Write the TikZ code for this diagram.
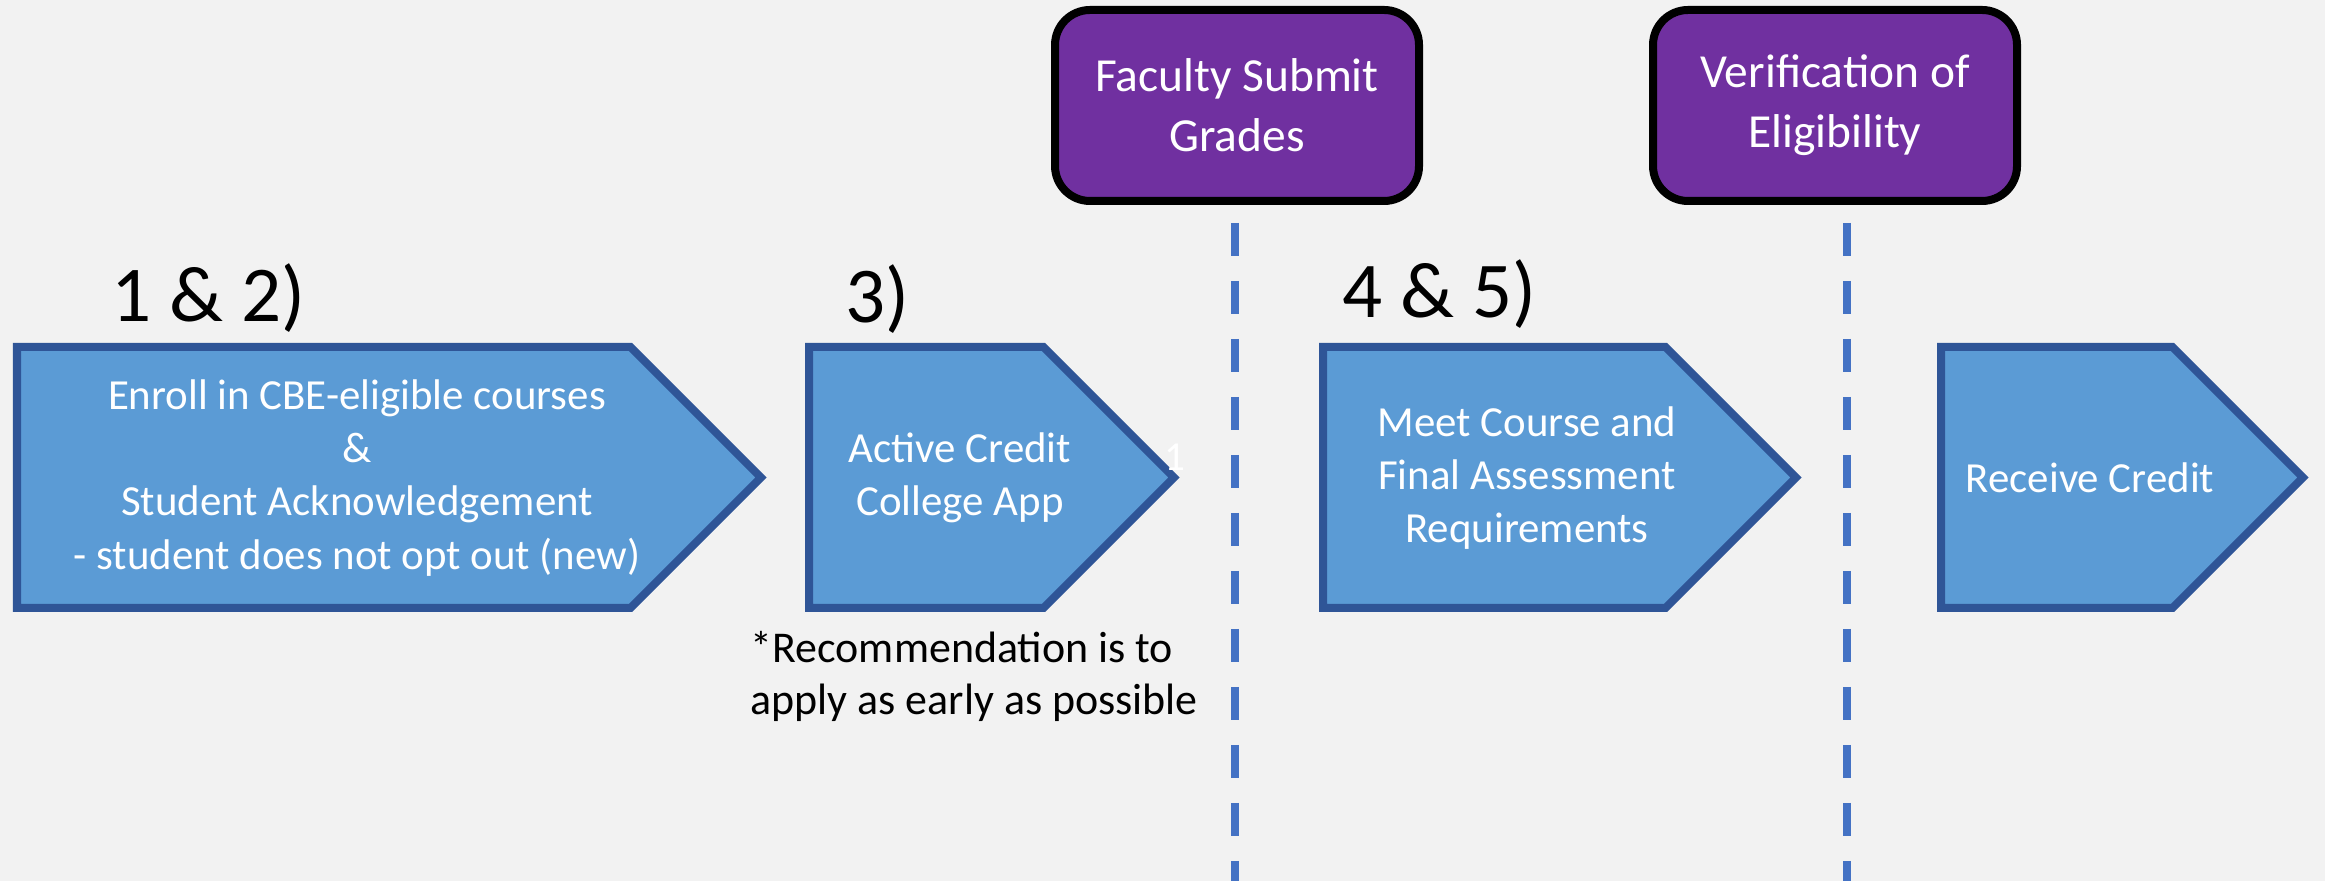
\documentclass[tikz,border=0pt]{standalone}
\usepackage{fontspec}
\setmainfont{Carlito}

\begin{document}
\begin{tikzpicture}[
    stepshape/.style={draw=step_border,fill=step_fill,line width=0.08cm},
    steptext/.style={text=white,align=center,font=\fontsize{12.2}{15.1}\selectfont},
    steplabel/.style={anchor=base west,inner sep=0pt,font=\fontsize{22.5}{27}\selectfont},
    gatebox/.style={shape=rectangle,rounded corners=0.35cm,draw=black,line width=0.08cm,fill=gate_fill,minimum width=3.64cm,minimum height=1.91cm,text=white,align=center,font=\fontsize{13.5}{17.1}\selectfont},
    gateline/.style={draw=gate_line,line width=0.084cm,dash pattern=on 0.33cm off 0.25cm}
]
    \definecolor{bg_fill}{RGB}{242,242,242}
    \definecolor{step_fill}{RGB}{91,155,213}
    \definecolor{step_border}{RGB}{47,85,151}
    \definecolor{gate_fill}{RGB}{112,48,160}
    \definecolor{gate_line}{RGB}{68,114,196}
    \useasboundingbox (0,0) rectangle (23.25,8.81);
    \fill[bg_fill] (0,0) rectangle (23.25,8.81);

    % step arrows
    \draw[stepshape] (0.17,5.34) -- ++(6.135,0) -- ++(1.305,-1.305) -- ++(-1.305,-1.305) -- ++(-6.135,0) -- cycle;
    \draw[stepshape] (8.09,5.34) -- ++(2.345,0) -- ++(1.305,-1.305) -- ++(-1.305,-1.305) -- ++(-2.345,0) -- cycle;
    \draw[stepshape] (13.23,5.34) -- ++(3.425,0) -- ++(1.305,-1.305) -- ++(-1.305,-1.305) -- ++(-3.425,0) -- cycle;
    \draw[stepshape] (19.41,5.34) -- ++(2.315,0) -- ++(1.305,-1.305) -- ++(-1.305,-1.305) -- ++(-2.315,0) -- cycle;

    \node[steptext] (enroll) at (3.57,4.03) {Enroll in CBE-eligible courses\\\&\\Student Acknowledgement\\- student does not opt out (new)};
    \node[steptext] (apply) at (9.60,4.03) {Active Credit\\College App};
    \node[steptext] (meet) at (15.27,4.03) {Meet Course and\\Final Assessment\\Requirements};
    \node[steptext] (credit) at (20.90,4.03) {Receive Credit};
    \node[text=white,inner sep=0pt,font=\fontsize{11.7}{14}\selectfont] (stray) at (11.75,4.24) {1};

    \node[steplabel] (steps12) at (1.11,5.59) {1 \& 2)};
    \node[steplabel] (step3) at (8.45,5.58) {3)};
    \node[steplabel] (steps45) at (13.42,5.63) {4 \& 5)};

    \node[anchor=base west,align=left,inner sep=0pt,font=\fontsize{12.5}{14.8}\selectfont] (note) at (7.50,1.66) {*Recommendation is to\\apply as early as possible};

    % checkpoints
    \node[gatebox] (faculty) at (12.37,7.755) {Faculty Submit\\Grades};
    \node[gatebox] (verify) at (18.35,7.755) {Verification of\\Eligibility};

    \coordinate (faculty_top) at (12.35,6.58);
    \coordinate (faculty_end) at (12.35,0);
    \coordinate (verify_top) at (18.47,6.58);
    \coordinate (verify_end) at (18.47,0);
    \draw[gateline] (faculty_top) -- (faculty_end);
    \draw[gateline] (verify_top) -- (verify_end);
\end{tikzpicture}
\end{document}
